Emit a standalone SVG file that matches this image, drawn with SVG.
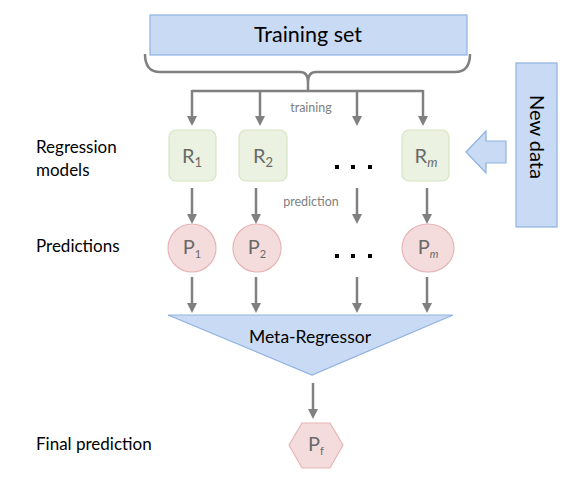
<svg xmlns="http://www.w3.org/2000/svg" width="579" height="479" viewBox="0 0 579 479">
<defs>
<style>
.blue{fill:#c9daf4;stroke:#8fb2e0;stroke-width:1.2}
.rbox{fill:#ebf2e1;stroke:#d6e4c4;stroke-width:1.2}
.pnode{fill:#f5dcdc;stroke:#e6b5b5;stroke-width:1.2}
.conn{stroke:#808080;stroke-width:2.5;fill:none}
.lab{font-family:"Lato","Liberation Sans",sans-serif;fill:#000;font-size:17px}
.small{font-family:"Lato","Liberation Sans",sans-serif;fill:#808080;font-size:12.5px;text-anchor:middle}
.node{font-family:"Lato","Liberation Sans",sans-serif;fill:#6a6a6a;font-size:20px;text-anchor:middle}
.dots{fill:#000}
</style>
<marker id="ah" markerWidth="10" markerHeight="10" refX="5" refY="5" orient="auto" markerUnits="userSpaceOnUse" viewBox="0 0 10 10">
<path d="M0,0 L10,5 L0,10 z" fill="#808080"/>
</marker>
</defs>
<rect width="579" height="479" fill="#fff"/>

<g id="training-set">
<rect class="blue" x="150" y="15" width="317" height="40"/>
<text x="308" y="42" font-family="Lato,'Liberation Sans',sans-serif" font-size="21.5" text-anchor="middle" fill="#000">Training set</text>
</g>

<g id="new-data">
<rect class="blue" x="516" y="63" width="41" height="164"/>
<text x="537" y="137" font-family="Lato,'Liberation Sans',sans-serif" font-size="20" text-anchor="middle" fill="#000" transform="rotate(90 537 137)" dy="7">New data</text>
<path class="blue" d="M466,152 L486,131 L486,141 L506,141 L506,163 L486,163 L486,173 Z"/>
</g>

<g id="labels">
<text class="lab" x="36" y="153">Regression</text>
<text class="lab" x="36" y="176">models</text>
<text class="lab" x="36" y="252">Predictions</text>
<text class="lab" x="36" y="450">Final prediction</text>
<text class="small" x="311" y="112">training</text>
<text class="small" x="311" y="206">prediction</text>
</g>

<g id="connectors">
<path class="conn" d="M145,54 Q145,72 160,72 L300,72 Q308,72 308,82 Q308,72 316,72 L455,72 Q470,72 470,54" stroke-width="2"/>
<path class="conn" d="M308,82 L308,91"/>
<path class="conn" d="M192,91 L423,91"/>
<path class="conn" d="M192,90 L192,121" marker-end="url(#ah)"/>
<path class="conn" d="M260,90 L260,121" marker-end="url(#ah)"/>
<path class="conn" d="M357,90 L357,121" marker-end="url(#ah)"/>
<path class="conn" d="M423,90 L423,121" marker-end="url(#ah)"/>
<path class="conn" d="M192,188 L192,219" marker-end="url(#ah)"/>
<path class="conn" d="M256,188 L256,219" marker-end="url(#ah)"/>
<path class="conn" d="M357,188 L357,219" marker-end="url(#ah)"/>
<path class="conn" d="M427,188 L427,219" marker-end="url(#ah)"/>
<path class="conn" d="M192,277 L192,308" marker-end="url(#ah)"/>
<path class="conn" d="M256,277 L256,308" marker-end="url(#ah)"/>
<path class="conn" d="M357,277 L357,308" marker-end="url(#ah)"/>
<path class="conn" d="M427,277 L427,308" marker-end="url(#ah)"/>
<path class="conn" d="M313,383 L313,414" marker-end="url(#ah)"/>
</g>

<g id="R1">
<rect class="rbox" x="169" y="130" width="47" height="51" rx="7"/>
<text class="node" x="192" y="163">R<tspan font-size="13" dy="4">1</tspan></text>
</g>
<g id="R2">
<rect class="rbox" x="239" y="130" width="48" height="51" rx="7"/>
<text class="node" x="263" y="163">R<tspan font-size="13" dy="4">2</tspan></text>
</g>
<g id="Rm">
<rect class="rbox" x="402" y="130" width="47" height="51" rx="7"/>
<text class="node" x="426" y="163">R<tspan font-size="13" dy="4" font-style="italic">m</tspan></text>
</g>
<g id="dots1" class="dots">
<rect x="335" y="165" width="4" height="4"/><rect x="351" y="165" width="4" height="4"/><rect x="368" y="165" width="4" height="4"/>
</g>

<g id="P1">
<ellipse class="pnode" cx="192" cy="248" rx="24" ry="24"/>
<text class="node" x="192" y="254" font-size="17">P<tspan font-size="11" dy="4">1</tspan></text>
</g>
<g id="P2">
<ellipse class="pnode" cx="257" cy="248" rx="24" ry="24"/>
<text class="node" x="257" y="254" font-size="17">P<tspan font-size="11" dy="4">2</tspan></text>
</g>
<g id="Pm">
<ellipse class="pnode" cx="428" cy="248" rx="26" ry="24"/>
<text class="node" x="428" y="254" font-size="17">P<tspan font-size="11" dy="4" font-style="italic">m</tspan></text>
</g>
<g id="dots2" class="dots">
<rect x="335" y="254" width="4" height="4"/><rect x="351" y="254" width="4" height="4"/><rect x="368" y="254" width="4" height="4"/>
</g>

<g id="meta-regressor">
<path d="M168,315 L453,315 L312,375 Z" fill="#c9daf4" stroke="#8fb2e0" stroke-width="1.2"/>
<text x="310" y="343" font-family="Lato,'Liberation Sans',sans-serif" font-size="17.5" text-anchor="middle" fill="#000">Meta-Regressor</text>
</g>

<g id="Pf">
<path class="pnode" d="M289,445 L302,423 L330,423 L343,445 L330,468 L302,468 Z"/>
<text class="node" x="316" y="451" font-size="17">P<tspan font-size="11" dy="4">f</tspan></text>
</g>
</svg>
